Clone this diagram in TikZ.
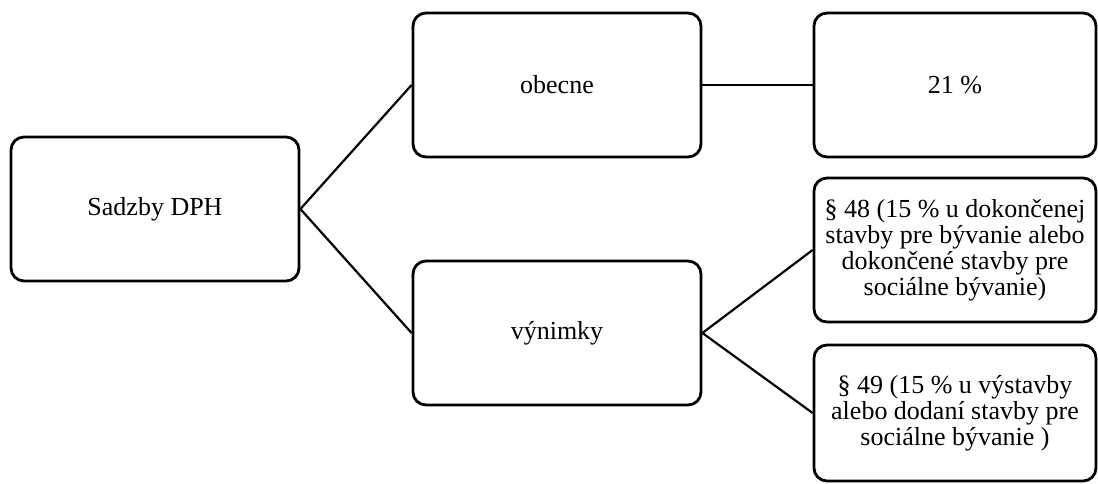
\documentclass[tikz,border=0pt]{standalone}
\usepackage{fontspec}
\setmainfont{Liberation Serif}
\begin{document}
\begin{tikzpicture}[x=1pt,y=-1pt,
  box/.style={draw, line width=2.8pt, rounded corners=13pt, align=center,
    font=\fontsize{26}{26}\selectfont, inner sep=0pt},
  lbox/.style={box, minimum width=288pt, minimum height=144pt},
  rbox/.style={box, minimum width=282pt, minimum height=144pt},
  conn/.style={line width=2.2pt}]
\useasboundingbox (0,0) rectangle (1098,483);
\node[lbox] (s) at (155,209) {Sadzby DPH};
\node[lbox] (o) at (557,85) {obecne};
\node[lbox] (v) at (557,333) {výnimky};
\node[rbox] (r) at (955,85) {21 \%};
\node[rbox] (a) at (955,250) {§ 48 (15 \% u dokončenej\\stavby pre bývanie alebo\\dokončené stavby pre\\sociálne bývanie)};
\node[rbox, minimum height=136pt] (b) at (955,413) {§ 49 (15 \% u výstavby\\alebo dodaní stavby pre\\sociálne bývanie )};
\draw[conn] (s.east) -- (o.west);
\draw[conn] (s.east) -- (v.west);
\draw[conn] (o.east) -- (r.west);
\draw[conn] (v.east) -- (a.west);
\draw[conn] (v.east) -- (b.west);
\end{tikzpicture}
\end{document}
